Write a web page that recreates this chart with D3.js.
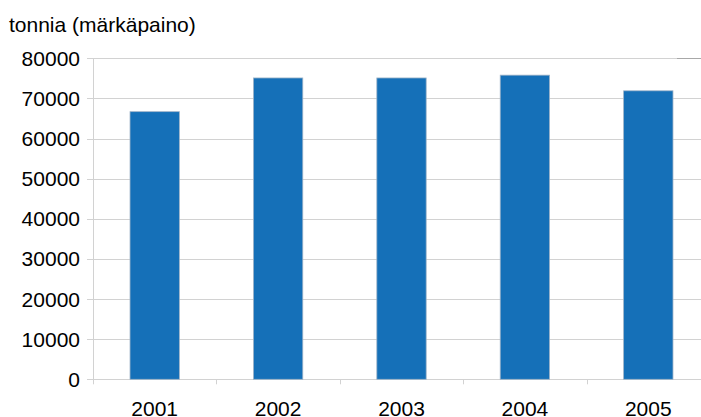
<!DOCTYPE html>
<html>
<head>
<meta charset="utf-8">
<script src="https://cdn.jsdelivr.net/npm/d3@7"></script>
<style>
  html, body { margin: 0; padding: 0; background: #fff; }
  svg { display: block; font-family: "Liberation Sans", Arial, sans-serif; }
</style>
</head>
<body>
<svg id="chart" width="701" height="417"></svg>
<script>
// Annual tonnage (wet weight)
const years = ["2001", "2002", "2003", "2004", "2005"];
const tonnes = [66700, 75100, 75100, 75800, 71900];
const yTicks = [0, 10000, 20000, 30000, 40000, 50000, 60000, 70000, 80000];
const unitLabel = "tonnia (märkäpaino)";

const svg = d3.select("#chart");
const plotLeft = 93, plotRight = 710, plotTop = 58.3, plotBottom = 379.3;

const x = d3.scaleBand().domain(years).range([plotLeft, plotRight]).paddingInner(0.6).paddingOuter(0.3);
const xEdge = d3.scaleBand().domain(years).range([plotLeft, plotRight]);
const y = d3.scaleLinear().domain([0, 80000]).range([plotBottom, plotTop]);

const grid = "#d2d2d2";

// Horizontal gridlines
svg.append("g").selectAll("line").data(yTicks).join("line")
  .attr("x1", plotLeft - 6).attr("x2", 701)
  .attr("y1", d => Math.round(y(d)) + 0.5).attr("y2", d => Math.round(y(d)) + 0.5)
  .attr("stroke", grid).attr("stroke-width", 1);

// Short darker segment at top right of the frame
svg.append("line")
  .attr("x1", 677).attr("x2", 701)
  .attr("y1", Math.round(y(80000)) + 0.5).attr("y2", Math.round(y(80000)) + 0.5)
  .attr("stroke", "#a8a8a8");

// Vertical axis line
svg.append("line")
  .attr("x1", plotLeft + 0.5).attr("x2", plotLeft + 0.5)
  .attr("y1", Math.round(y(80000))).attr("y2", plotBottom + 5)
  .attr("stroke", grid);

// Category separator ticks below baseline
svg.append("g").selectAll("line").data(years.slice(1)).join("line")
  .attr("x1", d => Math.round(xEdge(d)) + 0.5).attr("x2", d => Math.round(xEdge(d)) + 0.5)
  .attr("y1", plotBottom).attr("y2", plotBottom + 5)
  .attr("stroke", grid);

// Bars
svg.append("g").selectAll("rect").data(years).join("rect")
  .attr("x", d => x(d))
  .attr("width", x.bandwidth())
  .attr("y", (d, i) => y(tonnes[i]))
  .attr("height", (d, i) => y(0) - y(tonnes[i]))
  .attr("fill", "#1570b8")
  .attr("stroke", "#9fb4c8")
  .attr("stroke-width", 0.8);

// Y tick labels
svg.append("g").selectAll("text").data(yTicks).join("text")
  .attr("x", 80).attr("y", d => y(d))
  .attr("dy", "0.36em")
  .attr("text-anchor", "end")
  .attr("font-size", 21)
  .attr("fill", "#000")
  .text(d => d);

// X category labels
svg.append("g").selectAll("text").data(years).join("text")
  .attr("x", d => xEdge(d) + xEdge.bandwidth() / 2)
  .attr("y", 415.5)
  .attr("text-anchor", "middle")
  .attr("font-size", 21)
  .attr("fill", "#000")
  .text(d => d);

// Unit title
svg.append("text")
  .attr("x", 9).attr("y", 32)
  .attr("font-size", 21)
  .attr("fill", "#000")
  .text(unitLabel);
</script>
</body>
</html>
